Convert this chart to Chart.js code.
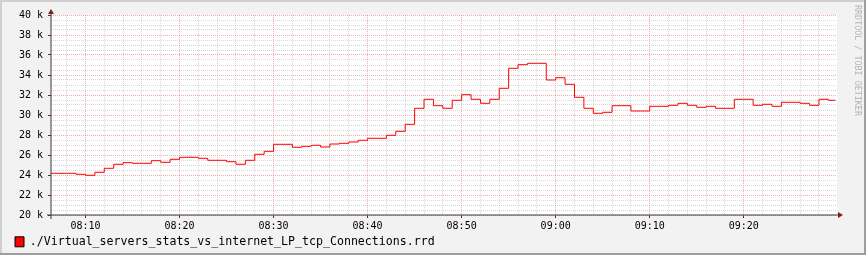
<!DOCTYPE html>
<html>
<head>
<meta charset="utf-8">
<script src="https://cdn.jsdelivr.net/npm/chart.js@4/dist/chart.umd.min.js"></script>
<style>
  html, body { margin: 0; padding: 0; background: #F2F2F2; }
  #wrap { width: 866px; height: 255px; }
</style>
</head>
<body>
<div id="wrap"><canvas id="myChart" width="866" height="255"></canvas></div>
<script>
// sample times (start of each 1 min interval), last entry = end of data
var times = [
  "08:06","08:07","08:08","08:09","08:10","08:11","08:12","08:13","08:14","08:15",
  "08:16","08:17","08:18","08:19","08:20","08:21","08:22","08:23","08:24","08:25",
  "08:26","08:27","08:28","08:29","08:30","08:31","08:32","08:33","08:34","08:35",
  "08:36","08:37","08:38","08:39","08:40","08:41","08:42","08:43","08:44","08:45",
  "08:46","08:47","08:48","08:49","08:50","08:51","08:52","08:53","08:54","08:55",
  "08:56","08:57","08:58","08:59","09:00","09:01","09:02","09:03","09:04","09:05",
  "09:06","09:07","09:08","09:09","09:10","09:11","09:12","09:13","09:14","09:15",
  "09:16","09:17","09:18","09:19","09:20","09:21","09:22","09:23","09:24","09:25",
  "09:26","09:27","09:28","09:29","09:29:45"
];

// tcp connections
var connections = [
  24170,24170,24170,24070,23970,24270,24670,25070,25230,25170,
  25170,25430,25270,25570,25770,25770,25670,25470,25470,25330,
  25070,25470,26070,26370,27070,27070,26770,26870,26970,26800,
  27100,27170,27300,27470,27670,27670,27970,28370,29070,30670,
  31570,30930,30670,31470,32030,31570,31170,31570,32670,34670,
  35030,35170,35170,33500,33730,33070,31770,30670,30170,30270,
  30930,30930,30400,30400,30870,30870,30970,31170,30970,30770,
  30870,30670,30670,31570,31570,30970,31070,30870,31270,31270,
  31170,30970,31570,31470,31470
];

var seriesName = "./Virtual_servers_stats_vs_internet_LP_tcp_Connections.rrd";

var viewStart = "08:06:20";
var viewEnd = "09:29:55";

function toMin(t)
{
  var p = t.split(":");
  var m = parseInt(p[0], 10) * 60 + parseInt(p[1], 10);
  if (p.length > 2) m += parseInt(p[2], 10) / 60;
  return m;
}

function fmtMin(m)
{
  var h = Math.floor(m / 60);
  var mm = Math.round(m % 60);
  return (h < 10 ? "0" : "") + h + ":" + (mm < 10 ? "0" : "") + mm;
}

var points = [];
for (var i = 0; i < times.length; i++)
{
  points.push({ x: toMin(times[i]), y: connections[i] });
}

var rrdLook = {
  id: "rrdLook",
  beforeDraw: function(chart) {
    var ctx = chart.ctx, w = chart.width, h = chart.height, a = chart.chartArea;
    ctx.save();
    ctx.fillStyle = "#F2F2F2";
    ctx.fillRect(0, 0, w, h);
    ctx.fillStyle = "#FFFFFF";
    ctx.fillRect(a.left, a.top, a.right - a.left, a.bottom - a.top);
    ctx.fillStyle = "#CFCFCF";
    ctx.fillRect(0, 0, w, 2);
    ctx.fillRect(0, 0, 2, h);
    ctx.fillStyle = "#9E9E9E";
    ctx.fillRect(0, h - 2, w, 2);
    ctx.fillRect(w - 2, 0, 2, h);
    // watermark
    ctx.translate(w - 9, 5);
    ctx.rotate(Math.PI / 2);
    ctx.font = "8.4px 'DejaVu Sans Mono'";
    ctx.fillStyle = "#B4B4B4";
    ctx.textBaseline = "middle";
    ctx.textAlign = "left";
    ctx.fillText("RRDTOOL / TOBI OETIKER", 0, 0);
    ctx.restore();
  },
  afterDraw: function(chart) {
    var ctx = chart.ctx, a = chart.chartArea;
    ctx.save();
    ctx.strokeStyle = "#3a3a3a";
    ctx.lineWidth = 1;
    ctx.beginPath();
    ctx.moveTo(a.left, a.bottom + 4);
    ctx.lineTo(a.left, a.top - 3);
    ctx.moveTo(a.left - 4, a.bottom);
    ctx.lineTo(a.right + 3, a.bottom);
    ctx.stroke();
    ctx.fillStyle = "#801F1F";
    ctx.beginPath();
    ctx.moveTo(a.left, a.top - 6);
    ctx.lineTo(a.left - 3, a.top - 1);
    ctx.lineTo(a.left + 3, a.top - 1);
    ctx.closePath();
    ctx.fill();
    ctx.beginPath();
    ctx.moveTo(a.right + 6, a.bottom);
    ctx.lineTo(a.right + 1, a.bottom - 3);
    ctx.lineTo(a.right + 1, a.bottom + 3);
    ctx.closePath();
    ctx.fill();
    ctx.restore();
  }
};

Chart.defaults.font.family = "'DejaVu Sans Mono'";
Chart.defaults.font.size = 10;
Chart.defaults.color = "#000000";

var minorGrid = "rgba(143,143,143,0.35)";
var majorGrid = "rgba(222,79,79,0.45)";

new Chart("myChart", {
  type: "line",
  data: {
    datasets: [{
      label: seriesName,
      data: points,
      borderColor: "#FF0000",
      backgroundColor: "#FF0000",
      borderWidth: 1,
      pointRadius: 0,
      stepped: "before",
      fill: false
    }]
  },
  options: {
    responsive: false,
    animation: false,
    devicePixelRatio: 1,
    layout: { padding: { left: 12, right: 29, top: 15, bottom: 0 } },
    plugins: {
      tooltip: { enabled: false },
      legend: {
        position: "bottom",
        align: "start",
        maxHeight: 22,
        labels: {
          boxWidth: 9,
          boxHeight: 10,
          padding: 3,
          font: { size: 11.6 },
          generateLabels: function(chart) {
            var items = Chart.defaults.plugins.legend.labels.generateLabels(chart);
            items.forEach(function(it) {
              it.fillStyle = "#FF0000";
              it.strokeStyle = "#000000";
              it.lineWidth = 1;
            });
            return items;
          }
        }
      }
    },
    scales: {
      x: {
        type: "linear",
        min: toMin(viewStart),
        max: toMin(viewEnd),
        afterFit: function(s) { s.height = 18; },
        border: { display: false, dash: [1, 1] },
        grid: {
          color: function(c) { return c.tick && c.tick.value % 10 === 0 ? majorGrid : minorGrid; },
          tickColor: function(c) { return c.tick && c.tick.value % 10 === 0 ? "#3a3a3a" : "rgba(0,0,0,0)"; },
          tickLength: 3,
          tickBorderDash: []
        },
        ticks: {
          stepSize: 2,
          includeBounds: false,
          autoSkip: false,
          maxRotation: 0,
          padding: 2,
          callback: function(v) { return v % 10 === 0 ? fmtMin(v) : ""; }
        }
      },
      y: {
        min: 20000,
        max: 40000,
        afterFit: function(s) { s.width = 39; },
        border: { display: false, dash: [1, 1] },
        grid: {
          color: function(c) { return c.tick && c.tick.value % 2000 === 0 ? majorGrid : minorGrid; },
          tickColor: function(c) { return c.tick && c.tick.value % 2000 === 0 ? "#3a3a3a" : "rgba(0,0,0,0)"; },
          tickLength: 3,
          tickBorderDash: []
        },
        ticks: {
          stepSize: 500,
          autoSkip: false,
          padding: 5,
          callback: function(v) { return v % 2000 === 0 ? (v / 1000) + " k" : ""; }
        }
      }
    }
  },
  plugins: [rrdLook]
});
</script>
</body>
</html>
